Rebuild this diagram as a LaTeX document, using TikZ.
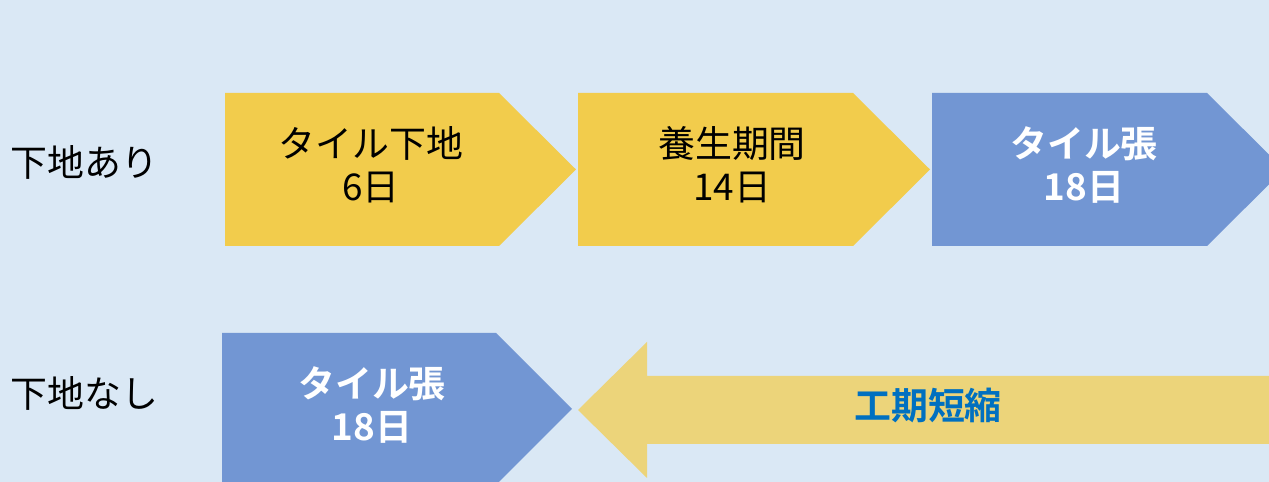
\documentclass[tikz,border=0pt]{standalone}
\usepackage{fontspec}
\setmainfont{Noto Sans CJK JP}[BoldFont={Noto Sans CJK JP Bold}]
\definecolor{bg}{RGB}{218,232,245}
\definecolor{gold}{RGB}{242,204,76}
\definecolor{tile}{RGB}{114,150,211}
\definecolor{pale}{RGB}{236,212,122}
\definecolor{txtblue}{RGB}{0,112,192}
\begin{document}
\begin{tikzpicture}[x=0.02cm,y=-0.02cm,
  lbl/.style={inner sep=0pt,font=\fontsize{21}{24.4}\selectfont,align=center},
  stepdark/.style={lbl,text=black},
  steplight/.style={lbl,text=white,font=\fontsize{21}{24.4}\selectfont\bfseries}]
\fill[bg] (0,0) rectangle (1269,482);
\clip (0,0) rectangle (1269,482);
% top row
\fill[gold] (225,93) -- (499,93) -- (576,169.5) -- (499,246) -- (225,246) -- cycle;
\fill[gold] (578,93) -- (853,93) -- (930,169.5) -- (853,246) -- (578,246) -- cycle;
\fill[tile] (932,93) -- (1207,93) -- (1284,169.5) -- (1207,246) -- (932,246) -- cycle;
% bottom row
\fill[tile] (222,333) -- (496,333) -- (572,409) -- (496,485) -- (222,485) -- cycle;
\fill[pale] (578,410) -- (647,342) -- (647,376) -- (1275,376) -- (1275,444) -- (647,444) -- (647,478) -- cycle;
% texts
\node[lbl,anchor=west] (r1) at (10,162) {下地あり};
\node[lbl,anchor=west] (r2) at (10,393) {下地なし};
\node[stepdark] (a1) at (371,165) {タイル下地\\6日};
\node[stepdark] (a2) at (732,165) {養生期間\\14日};
\node[steplight] (a3) at (1084,165) {タイル張\\18日};
\node[steplight] (b1) at (372,405) {タイル張\\18日};
\node[lbl,text=txtblue,font=\fontsize{21}{24.4}\selectfont\bfseries] (c1) at (928,405) {工期短縮};
\end{tikzpicture}
\end{document}
